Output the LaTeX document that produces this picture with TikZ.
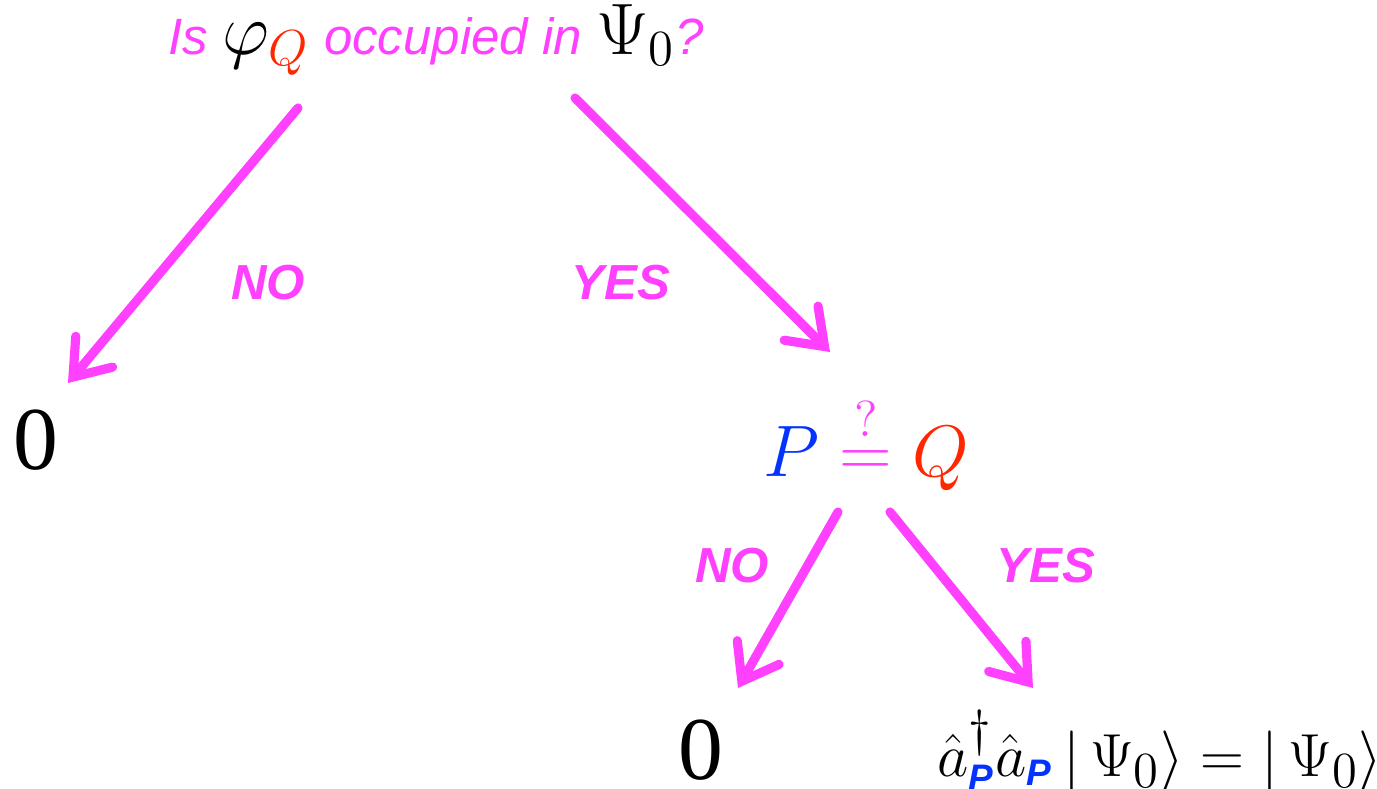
\documentclass[tikz,border=0pt]{standalone}
\usepackage{amsmath}
\usepackage{fontspec}
\setmainfont{Liberation Sans}
\newfontfamily\serifdigits{Liberation Serif}
\usetikzlibrary{arrows.meta}
\definecolor{chalk}{RGB}{255,64,255}
\definecolor{qred}{RGB}{255,38,0}
\definecolor{pblue}{RGB}{4,51,255}
\newcommand{\ptag}{\text{\fontsize{10.5}{12}\selectfont\bfseries\itshape\color{pblue}P}}
\newcommand{\qmath}[1]{{\fontsize{22}{26}\selectfont$#1$}}

\begin{document}
\begin{tikzpicture}[
      x=0.01cm, y=-0.01cm,
      ask/.style={font=\fontsize{14.5}{17}\selectfont\itshape, text=chalk, inner sep=0pt, anchor=base},
      answer/.style={font=\fontsize{14}{17}\selectfont\bfseries\itshape, text=chalk, inner sep=0pt},
      result/.style={font=\fontsize{22}{26}\selectfont, inner sep=0pt, anchor=base},
      zero/.style={font=\fontsize{25.5}{30}\selectfont\serifdigits, inner sep=0pt, anchor=base},
      crayon/.style={draw=chalk, line width=2.6pt, line cap=round, line join=round,
        -{Straight Barb[length=0.33cm, width=0.48cm, line cap=round]}}
    ]
      \useasboundingbox (0,0) rectangle (1377,789);
      % question and answers
      \node[ask] (question) at (436,55) {Is \qmath{\color{black}\varphi_{\color{qred}Q}} occupied in \qmath{\color{black}\Psi_0}?};
      \node[zero] (zeroA) at (36,470) {0};
      \node[result] (compare) at (866,477) {${\color{pblue}P} \mathrel{\color{chalk}\overset{?}{=}} {\color{qred}Q}$};
      \node[zero] (zeroB) at (701,779) {0};
      \node[result, font=\fontsize{19}{22}\selectfont] (keep) at (1160,776) {$\hat{a}^{\dagger}_{\ptag}\hat{a}_{\ptag}\,|\,\Psi_0\rangle = |\,\Psi_0\rangle$};
      % arrow ends
      \coordinate (noTail) at (298,108);
      \coordinate (noTip) at (68,383);
      \coordinate (yesTail) at (575,98);
      \coordinate (yesTip) at (830,352);
      \coordinate (neqTail) at (838,512);
      \coordinate (neqTip) at (738,688);
      \coordinate (eqTail) at (890,512);
      \coordinate (eqTip) at (1033,688);
      \draw[crayon] (noTail) -- (noTip);
      \draw[crayon] (yesTail) -- (yesTip);
      \draw[crayon] (neqTail) -- (neqTip);
      \draw[crayon] (eqTail) -- (eqTip);
      \node[answer] (noA) at (268,283) {NO};
      \node[answer] (yesA) at (621,283) {YES};
      \node[answer] (noB) at (732,566) {NO};
      \node[answer] (yesB) at (1046,566) {YES};
    \end{tikzpicture}
\end{document}
